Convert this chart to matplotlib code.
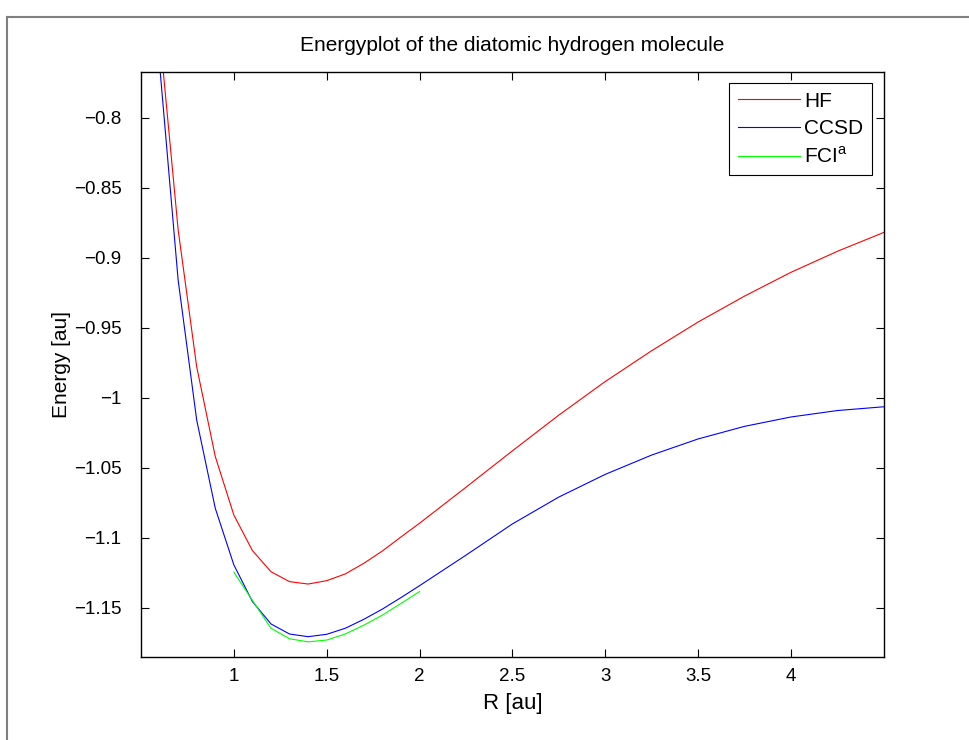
import matplotlib.pyplot as plt
from matplotlib.lines import Line2D
from matplotlib.ticker import FuncFormatter

plt.rcParams['font.family'] = ['Liberation Sans', 'DejaVu Sans']
plt.rcParams['mathtext.fontset'] = 'custom'
plt.rcParams['mathtext.rm'] = 'Liberation Sans'

# bond length R [au]
R_hf = [0.6, 0.7, 0.8, 0.9, 1.0, 1.1, 1.2, 1.3, 1.4, 1.5, 1.6, 1.7, 1.8, 1.9, 2.0,
        2.25, 2.5, 2.75, 3.0, 3.25, 3.5, 3.75, 4.0, 4.25, 4.5]
E_hf = [-0.739, -0.880, -0.978, -1.042, -1.0838, -1.1092, -1.1243, -1.1314, -1.1331,
        -1.1307, -1.1259, -1.1183, -1.1095, -1.0995, -1.0897,
        -1.064, -1.038, -1.0125, -0.9885, -0.9665, -0.946, -0.9275, -0.9105, -0.8955, -0.882]

R_ccsd = R_hf
E_ccsd = [-0.762, -0.916, -1.016, -1.079, -1.1194, -1.1456, -1.1616, -1.1688, -1.1707,
          -1.1690, -1.1647, -1.1583, -1.1510, -1.1428, -1.1343,
          -1.1125, -1.0902, -1.071, -1.0548, -1.041, -1.0295, -1.0205, -1.0138, -1.0092, -1.0065]

R_fci = [1.0, 1.1, 1.2, 1.3, 1.4, 1.5, 1.6, 1.7, 1.8, 1.9, 2.0]
E_fci = [-1.1246, -1.1448, -1.1647, -1.1722, -1.1744, -1.1731, -1.1688, -1.1625,
         -1.1553, -1.1470, -1.1385]

xticks = [1, 1.5, 2, 2.5, 3, 3.5, 4]
yticks = [-1.15, -1.1, -1.05, -1, -0.95, -0.9, -0.85, -0.8]

W, H = 970, 740
fig = plt.figure(figsize=(W / 100, H / 100), dpi=100)
ax = fig.add_axes([141 / W, (H - 656.7) / H, (883.7 - 141) / W, (656.7 - 72) / H])

ax.plot(R_hf, E_hf, color=(1, 0, 0), lw=0.8, label='HF')
ax.plot(R_ccsd, E_ccsd, color=(0, 0, 1), lw=0.8, label='CCSD')
ax.plot(R_fci, E_fci, color=(0, 1, 0), lw=0.8, label='FCI$^\\mathrm{a}$')

ax.set_xlim(0.5, 4.5)
ax.set_ylim(-1.185, -0.7674)
ax.set_xticks(xticks)
ax.set_yticks(yticks)
fmt = FuncFormatter(lambda v, p: ('%g' % v).replace('-', '\u2212'))
ax.xaxis.set_major_formatter(fmt)
ax.yaxis.set_major_formatter(fmt)
ax.tick_params(direction='in', top=True, right=True, length=5.5, width=0.8,
               labelsize=13.5)
ax.tick_params(axis='x', pad=8)
ax.tick_params(axis='y', pad=14)
for s in ax.spines.values():
    s.set_linewidth(1.0)

ax.set_title('Energyplot of the diatomic hydrogen molecule', fontsize=15, pad=15)
ax.set_xlabel('R [au]', fontsize=16, labelpad=6)
ax.set_ylabel('Energy [au]', fontsize=15, labelpad=2)

leg = ax.legend(loc='upper right', bbox_to_anchor=(871.7 / W, 1 - 83.3 / H),
                bbox_transform=fig.transFigure, borderaxespad=0, fontsize=15,
                fancybox=False, framealpha=1, edgecolor='black',
                handlelength=3.0, handletextpad=0.2, borderpad=0.4,
                labelspacing=0.4)
leg.get_frame().set_linewidth(0.8)

# grey frame around the figure area
fig.add_artist(Line2D([7.5 / W, 7.5 / W], [0, 1 - 16.5 / H], transform=fig.transFigure,
                      color='grey', lw=1.5))
fig.add_artist(Line2D([7.5 / W, 1], [1 - 16.5 / H, 1 - 16.5 / H], transform=fig.transFigure,
                      color='grey', lw=1.5))

fig.savefig('out.png', dpi=100)
